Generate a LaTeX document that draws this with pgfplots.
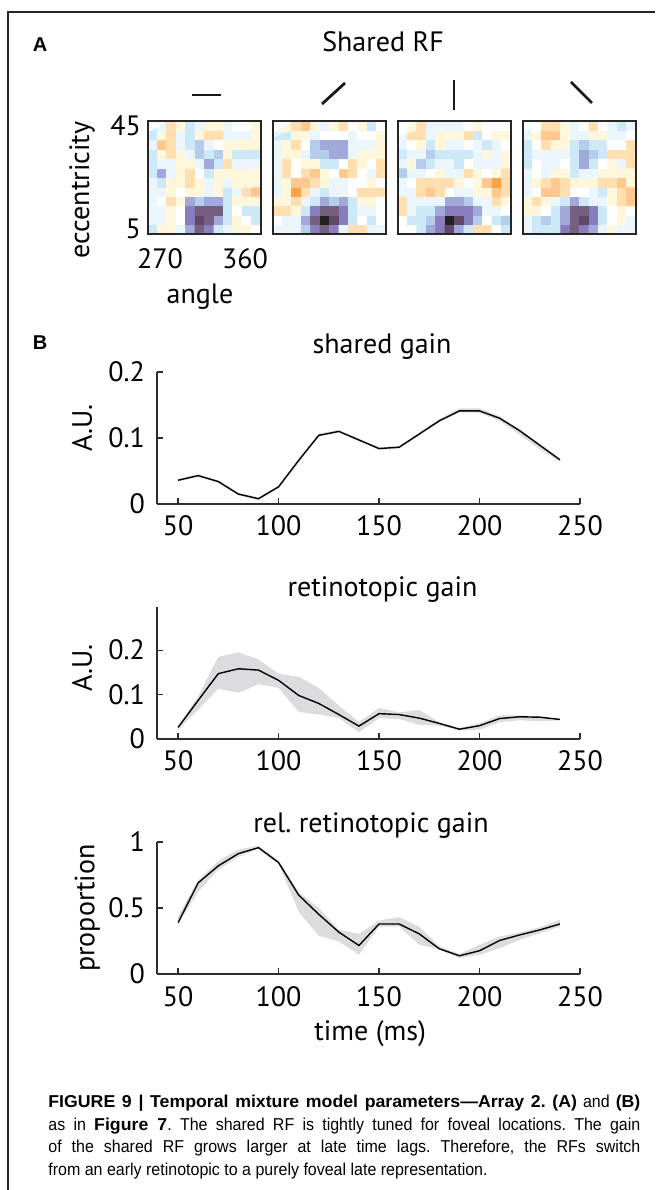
\documentclass[border=0pt]{standalone}
\usepackage{fontspec}
\setmainfont{PT Sans}
\newfontfamily\capfont[FakeStretch=0.93, BoldFeatures={FakeStretch=1.03}]{Liberation Sans}
\newfontfamily\labfont{Liberation Sans}
\usepackage{pgfplots}
\pgfplotsset{compat=1.18}
\newcommand{\cf}{\fontsize{14}{16}\selectfont}
\definecolor{bandgray}{RGB}{220,220,222}
\definecolor{axgray}{RGB}{45,45,45}
\pgfplotsset{
 every axis title shift=0pt,
 rfmap/.style={
  scale only axis, width=56.5pt, height=56.5pt, anchor=south west,
  xmin=-0.5, xmax=11.5, ymin=-0.5, ymax=11.5, axis on top,
  xtick=\empty, ytick=\empty, major tick length=0pt,
  axis line style={line width=1pt, color=black!85},
  colormap={rf}{rgb255=(249,162,70) rgb255=(255,200,145) rgb255=(255,223,175) rgb255=(255,247,220) rgb255=(255,255,255) rgb255=(234,245,252) rgb255=(205,233,248) rgb255=(179,205,234) rgb255=(160,169,217) rgb255=(138,125,190) rgb255=(118,96,130) rgb255=(94,74,102) rgb255=(34,34,36)},
  point meta min=-4, point meta max=8,
  tick label style={font=\cf}, label style={font=\cf},
 },
 rfplot/.style={matrix plot*, mesh/cols=12, point meta=explicit},
 lineax/.style={
  scale only axis, width=211.5pt, height=66pt, anchor=south west,
  axis x line*=bottom, axis y line*=left, axis line style={line width=0.6pt, color=axgray},
  tick align=inside, major tick length=3pt, tick style={line width=0.6pt, color=axgray},
  xmin=39.5, xmax=250, xtick={50,100,150,200,250}, ymin=0,
  tick label style={font=\cf}, label style={font=\cf}, title style={font=\cf},
  xticklabel style={yshift=-2.5pt}, yticklabel style={xshift=-2.5pt},
  /pgf/number format/assume math mode=true,
 },
}
\begin{document}
\frenchspacing
\begin{tikzpicture}
\useasboundingbox (0,0) rectangle (327.5pt,595pt);
\draw[line width=1pt, black!85] (327.5pt,589pt) -- (4pt,589pt) -- (4pt,0pt);
\node[font=\labfont\bfseries\fontsize{10}{12}\selectfont] at (20pt,572.5pt) {A};
\node[font=\labfont\bfseries\fontsize{10}{12}\selectfont] at (20pt,423.5pt) {B};
\node[font=\cf] at (191.5pt,574pt) {Shared RF};
% orientation markers
\draw[line width=1.4pt, black!90] (96pt,547.5pt) -- (110.5pt,547.5pt);
\draw[line width=1.4pt, black!90] (161pt,543pt) -- (172.5pt,553.5pt);
\draw[line width=1.4pt, black!90] (227pt,555pt) -- (227pt,540pt);
\draw[line width=1.4pt, black!90] (285.5pt,554pt) -- (296pt,543.5pt);

% heatmap 1
\begin{axis}[rfmap, at={(74pt,478pt)}, ytick={0,11}, yticklabels={5,45}, xtick={0.77,9.8}, xticklabels={270,360},
  xticklabel style={yshift=-4pt},
  xlabel={angle}, ylabel={eccentricity},
  xlabel style={at={(axis description cs:0.46,-0.558)}, anchor=center},
  ylabel style={at={(axis description cs:-0.584,0.389)}, anchor=center}]
\addplot[rfplot] table[row sep=\\, x expr={mod(\coordindex,12)}, y expr={floor(\coordindex/12)}, meta=c]{
c\\
2\\-1\\-1\\1\\4\\6\\5\\2\\1\\-1\\-1\\0\\
1\\1\\-1\\0\\5\\7\\6\\4\\2\\-1\\0\\2\\
1\\1\\-1\\0\\5\\6\\6\\6\\2\\0\\2\\2\\
1\\0\\-2\\-1\\4\\3\\4\\4\\2\\-1\\-1\\-1\\
1\\1\\-1\\0\\-1\\-1\\1\\-1\\2\\1\\-2\\-3\\
1\\2\\-1\\-1\\-2\\-1\\1\\-1\\1\\-1\\-1\\-1\\
2\\4\\1\\-1\\-2\\0\\2\\-1\\-1\\-1\\-1\\-1\\
2\\1\\1\\-1\\-1\\1\\4\\2\\-2\\1\\1\\1\\
2\\-1\\-2\\-1\\1\\3\\2\\3\\-1\\2\\2\\2\\
1\\-3\\-2\\1\\2\\3\\1\\0\\-1\\-1\\-1\\-1\\
2\\-1\\-2\\1\\2\\-1\\-2\\-2\\1\\1\\1\\-1\\
2\\1\\-2\\-1\\2\\1\\-1\\-1\\1\\0\\0\\-1\\
};
\end{axis}
% heatmap 2
\begin{axis}[rfmap, at={(136.5pt,478pt)}]
\addplot[rfplot] table[row sep=\\, x expr={mod(\coordindex,12)}, y expr={floor(\coordindex/12)}, meta=c]{
c\\
1\\1\\1\\3\\5\\6\\5\\1\\-2\\-2\\1\\1\\
0\\1\\1\\4\\6\\8\\7\\5\\2\\0\\2\\0\\
-2\\-2\\-1\\2\\5\\6\\6\\5\\2\\1\\1\\0\\
-1\\-1\\-2\\1\\2\\4\\3\\4\\2\\-1\\-1\\0\\
1\\-1\\-4\\-2\\1\\2\\1\\1\\0\\-2\\-2\\-2\\
1\\-1\\-3\\-3\\-2\\-1\\1\\1\\0\\0\\-1\\0\\
1\\-2\\0\\-2\\-3\\-1\\0\\-3\\-2\\0\\1\\-2\\
1\\-2\\0\\-1\\-1\\2\\2\\0\\-2\\-1\\0\\-2\\
1\\-1\\-1\\1\\3\\3\\4\\4\\1\\-1\\-1\\-1\\
1\\-1\\-2\\0\\3\\4\\4\\4\\1\\1\\1\\-1\\
2\\2\\-1\\-1\\1\\0\\0\\0\\1\\0\\0\\-1\\
1\\-1\\-2\\-3\\-1\\1\\-1\\-2\\0\\-1\\2\\0\\
};
\end{axis}
% heatmap 3
\begin{axis}[rfmap, at={(199pt,478pt)}]
\addplot[rfplot] table[row sep=\\, x expr={mod(\coordindex,12)}, y expr={floor(\coordindex/12)}, meta=c]{
c\\
0\\0\\2\\4\\5\\7\\4\\2\\-2\\-2\\0\\2\\
0\\2\\2\\3\\5\\8\\7\\5\\3\\0\\2\\3\\
-2\\1\\2\\2\\4\\5\\5\\5\\4\\1\\1\\0\\
-2\\1\\1\\1\\1\\4\\4\\3\\1\\1\\-2\\-1\\
1\\1\\-2\\-3\\-2\\0\\1\\1\\-1\\-1\\-3\\-2\\
1\\0\\-2\\-2\\-2\\-2\\-1\\0\\-1\\-3\\-4\\-2\\
3\\1\\1\\0\\-1\\1\\1\\-2\\-1\\0\\-1\\-2\\
1\\-1\\3\\2\\1\\1\\2\\0\\1\\1\\1\\-1\\
2\\1\\1\\3\\2\\2\\2\\2\\1\\-1\\1\\-1\\
1\\0\\-1\\2\\-1\\1\\1\\0\\1\\2\\1\\0\\
1\\-2\\-2\\1\\-1\\-1\\-1\\-2\\2\\0\\-1\\-1\\
0\\-1\\-2\\1\\1\\1\\1\\0\\-1\\0\\0\\0\\
};
\end{axis}
% heatmap 4
\begin{axis}[rfmap, at={(261.5pt,478pt)}]
\addplot[rfplot] table[row sep=\\, x expr={mod(\coordindex,12)}, y expr={floor(\coordindex/12)}, meta=c]{
c\\
1\\2\\2\\2\\5\\6\\5\\4\\1\\-1\\1\\1\\
1\\2\\3\\2\\4\\6\\7\\5\\2\\0\\-1\\1\\
-1\\-1\\0\\2\\4\\6\\6\\5\\2\\0\\-1\\0\\
-1\\-2\\-1\\1\\2\\4\\2\\1\\1\\-1\\-2\\-3\\
1\\0\\-3\\-3\\-2\\0\\0\\1\\2\\-1\\-2\\-3\\
1\\-1\\-2\\-3\\-2\\-1\\-1\\-1\\-2\\-2\\-3\\-1\\
1\\0\\1\\-1\\-1\\2\\1\\1\\-1\\-1\\-1\\-1\\
2\\0\\1\\1\\0\\2\\4\\2\\0\\-1\\1\\-2\\
2\\1\\1\\1\\1\\2\\4\\3\\2\\-2\\-2\\-2\\
2\\0\\-2\\-1\\-1\\2\\3\\2\\2\\0\\0\\-2\\
1\\-1\\-3\\-3\\-1\\1\\1\\-1\\-1\\1\\1\\0\\
1\\0\\-2\\-2\\-1\\1\\0\\-2\\0\\1\\2\\1\\
};
\end{axis}

% shared gain
\begin{axis}[lineax, at={(78.5pt,343pt)}, ymax=0.2, ytick={0,0.1,0.2},
  title={shared gain}, title style={at={(axis description cs:0.532,1.189)}, anchor=center},
  ylabel={A.U.}, ylabel style={at={(axis description cs:-0.177,0.576)}, anchor=center}]
% band: upper bound forward, lower bound backward
\addplot[fill=bandgray, draw=none] coordinates {
(50,0.038) (60,0.045) (70,0.036) (80,0.017) (90,0.010) (100,0.028) (110,0.068) (120,0.107) (130,0.112) (140,0.099)
(150,0.086) (160,0.088) (170,0.108) (180,0.129) (190,0.145) (200,0.145) (210,0.133) (220,0.113) (230,0.091) (240,0.069)
(240,0.064) (230,0.083) (220,0.105) (210,0.126) (200,0.138) (190,0.139) (180,0.124) (170,0.104) (160,0.084) (150,0.082)
(140,0.095) (130,0.108) (120,0.102) (110,0.064) (100,0.024) (90,0.006) (80,0.013) (70,0.032) (60,0.041) (50,0.034)
} -- cycle;
\addplot[black, line width=0.7pt] coordinates {
(50,0.036) (60,0.043) (70,0.034) (80,0.015) (90,0.008) (100,0.026) (110,0.066) (120,0.104) (130,0.110) (140,0.097)
(150,0.084) (160,0.086) (170,0.106) (180,0.126) (190,0.141) (200,0.141) (210,0.130) (220,0.111) (230,0.089) (240,0.067)
};
\end{axis}

% retinotopic gain
\begin{axis}[lineax, at={(78.5pt,225.5pt)}, ymax=0.297, ytick={0,0.1,0.2},
  title={retinotopic gain}, title style={at={(axis description cs:0.533,1.129)}, anchor=center},
  ylabel={A.U.}, ylabel style={at={(axis description cs:-0.177,0.538)}, anchor=center}]
\addplot[fill=bandgray, draw=none] coordinates {
(50,0.029) (60,0.096) (70,0.185) (80,0.195) (90,0.179) (100,0.147) (110,0.140) (120,0.115) (130,0.075) (140,0.038)
(150,0.070) (160,0.060) (170,0.065) (180,0.038) (190,0.025) (200,0.035) (210,0.053) (220,0.053) (230,0.051) (240,0.045)
(240,0.042) (230,0.040) (220,0.042) (210,0.038) (200,0.021) (190,0.020) (180,0.030) (170,0.032) (160,0.045) (150,0.047)
(140,0.015) (130,0.047) (120,0.055) (110,0.061) (100,0.115) (90,0.123) (80,0.104) (70,0.113) (60,0.066) (50,0.021)
} -- cycle;
\addplot[black, line width=0.7pt] coordinates {
(50,0.026) (60,0.087) (70,0.147) (80,0.158) (90,0.155) (100,0.132) (110,0.098) (120,0.080) (130,0.055) (140,0.029)
(150,0.057) (160,0.055) (170,0.047) (180,0.035) (190,0.022) (200,0.030) (210,0.046) (220,0.050) (230,0.049) (240,0.044)
};
\end{axis}

% rel. retinotopic gain
\begin{axis}[lineax, at={(78.5pt,108pt)}, ymax=1, ytick={0,0.5,1},
  title={rel. retinotopic gain}, title style={at={(axis description cs:0.506,1.121)}, anchor=center},
  ylabel={proportion}, ylabel style={at={(axis description cs:-0.165,0.5)}, anchor=center},
  xlabel={time (ms)}, xlabel style={at={(axis description cs:0.504,-0.455)}, anchor=center}]
\addplot[fill=bandgray, draw=none] coordinates {
(50,0.440) (60,0.710) (70,0.857) (80,0.942) (90,0.972) (100,0.862) (110,0.620) (120,0.500) (130,0.335) (140,0.304)
(150,0.405) (160,0.430) (170,0.359) (180,0.209) (190,0.153) (200,0.221) (210,0.284) (220,0.314) (230,0.354) (240,0.410)
(240,0.359) (230,0.309) (220,0.259) (210,0.196) (200,0.146) (190,0.121) (180,0.188) (170,0.221) (160,0.359) (150,0.359)
(140,0.146) (130,0.246) (120,0.289) (110,0.472) (100,0.837) (90,0.950) (80,0.887) (70,0.791) (60,0.623) (50,0.379)
} -- cycle;
\addplot[black, line width=0.7pt] coordinates {
(50,0.389) (60,0.691) (70,0.819) (80,0.912) (90,0.957) (100,0.844) (110,0.598) (120,0.452) (130,0.317) (140,0.216)
(150,0.379) (160,0.379) (170,0.304) (180,0.191) (190,0.138) (200,0.176) (210,0.254) (220,0.296) (230,0.334) (240,0.379)
};
\end{axis}

% caption
\begin{scope}[every node/.style={anchor=base west, inner sep=0pt, font=\capfont\fontsize{8.6}{10}\selectfont}]
\node at (24pt,41.5pt) {\makebox[296pt][s]{\textbf{FIGURE 9 | Temporal mixture model parameters—Array 2. (A)} and \textbf{(B)}}};
\node at (24pt,30pt) {\makebox[296pt][s]{as in \textbf{Figure 7}. The shared RF is tightly tuned for foveal locations. The gain}};
\node at (24pt,18.5pt) {\makebox[296pt][s]{of the shared RF grows larger at late time lags. Therefore, the RFs switch}};
\node at (24pt,7.5pt) {from an early retinotopic to a purely foveal late representation.};
\end{scope}
\end{tikzpicture}
\end{document}
